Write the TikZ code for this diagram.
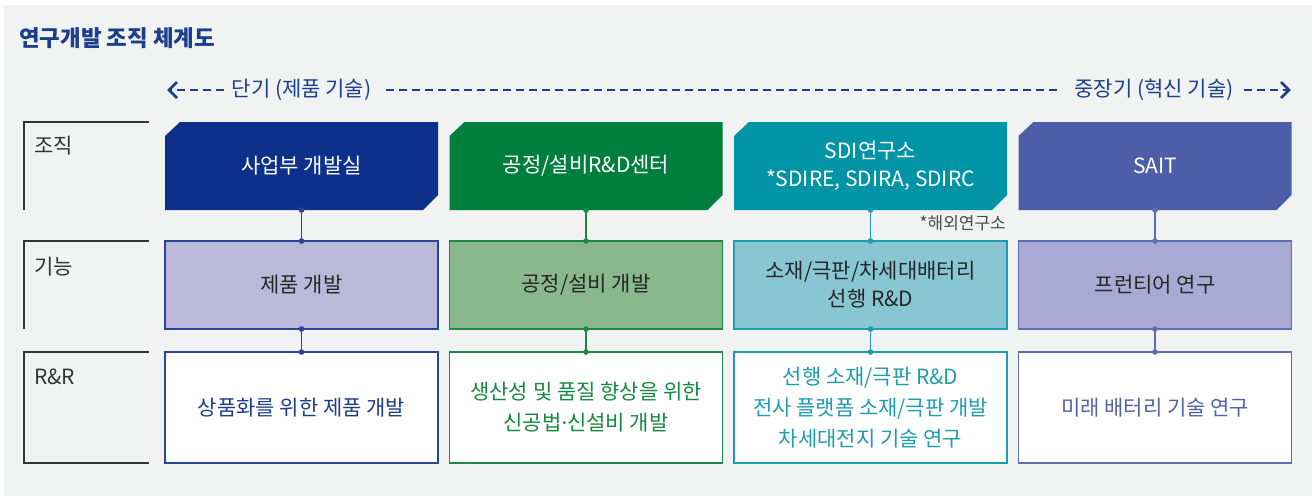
\documentclass[tikz,border=0pt]{standalone}
\usepackage{fontspec}
\setmainfont{Noto Sans CJK KR}
\newfontfamily\latinf{Noto Sans}
\usetikzlibrary{arrows.meta,backgrounds}
\definecolor{bg}{HTML}{F1F2F2}
\definecolor{titleblue}{HTML}{1B3E8E}
\definecolor{labgray}{HTML}{333333}
\definecolor{notegray}{HTML}{4A4A4A}
\definecolor{cAdark}{HTML}{0D318A}
\definecolor{cAlight}{HTML}{BBB8DA}
\definecolor{cAline}{HTML}{2A4597}
\definecolor{cAtext}{HTML}{1E3C8C}
\definecolor{cBdark}{HTML}{007E3E}
\definecolor{cBlight}{HTML}{89B88C}
\definecolor{cBline}{HTML}{1C8A46}
\definecolor{cBtext}{HTML}{148A3E}
\definecolor{cCdark}{HTML}{0094A6}
\definecolor{cClight}{HTML}{88C6D3}
\definecolor{cCline}{HTML}{1E9DAF}
\definecolor{cCtext}{HTML}{1E9DAE}
\definecolor{cDdark}{HTML}{4C5EA9}
\definecolor{cDlight}{HTML}{A9AAD4}
\definecolor{cDline}{HTML}{5E6BB5}
\definecolor{cDtext}{HTML}{5461AC}
\newcommand{\fsz}[2]{\fontsize{#1}{#2}\selectfont}
\begin{document}
\begin{tikzpicture}[x=1pt,y=-1pt,
  orgbox/.style={rectangle, inner sep=0pt, outer sep=0pt, minimum width=273pt, minimum height=88pt, text=white, align=center, font=\fsz{21}{28}},
  funcbox/.style={rectangle, inner sep=0pt, outer sep=0pt, minimum width=273pt, minimum height=88pt, line width=1.5pt, text=black!85, align=center, font=\fsz{21}{28}},
  rrbox/.style={rectangle, inner sep=0pt, outer sep=0pt, minimum width=273pt, minimum height=111pt, line width=1.5pt, fill=white, align=center, font=\fsz{21}{31}},
  conn/.style={draw=#1, line width=1.5pt, {Circle[length=5.5pt]}-{Circle[length=5.5pt]}, shorten <=-2.75pt, shorten >=-2.75pt},
  labline/.style={draw=labgray, line width=1.2pt},
  labtext/.style={anchor=west, inner sep=0pt, text=labgray, font=\fsz{21}{24}},
  dashline/.style={draw=titleblue, line width=2.4pt, dash pattern=on 8pt off 5pt},
  timelabel/.style={inner xsep=0pt, inner ysep=2pt, text=titleblue, font=\fsz{21}{24}},
  chevron/.style={draw=titleblue, line width=2.6pt, line cap=butt, line join=miter}
]
\useasboundingbox (0,0) rectangle (1312,496);

% title
\node[anchor=west, inner sep=0pt, text=titleblue, font=\fsz{22.4}{26}\bfseries] (title) at (19,38) {연구개발 조직 체계도};

% time axis
\node[timelabel] (short) at (301.5,90) {단기 (제품 기술)};
\node[timelabel] (long) at (1154,90) {중장기 (혁신 기술)};
\coordinate (la) at (169,90);
\coordinate (ra) at (1289,90);
\draw[dashline, shorten <=8pt, shorten >=2pt] (short.west) -- (la);
\draw[dashline, shorten <=15pt, shorten >=13pt] (short.east) -- (long.west);
\draw[dashline, shorten <=10pt, shorten >=2pt] (long.east) -- (ra);
\draw[chevron] ([shift={(8,-8)}]la) -- (la) -- ([shift={(8,8)}]la);
\draw[chevron] ([shift={(-8,-8)}]ra) -- (ra) -- ([shift={(-8,8)}]ra);

% row labels
\draw[labline] (149,122) -- (24,122) -- (24,210);
\draw[labline] (149,241) -- (24,241) -- (24,329);
\draw[labline] (149,352) -- (24,352) -- (24,463) -- (149,463);
\node[labtext] (lab1) at (34,146) {조직};
\node[labtext] (lab2) at (34,267) {기능};
\node[labtext] (lab3) at (34,377) {R\&R};

% organisation row
\node[orgbox] (o1) at (301.5,166) {사업부 개발실};
\node[orgbox] (o2) at (586,166) {공정/설비R\&D센터};
\node[orgbox] (o3) at (870.5,166) {SDI연구소\\*SDIRE, SDIRA, SDIRC};
\node[orgbox] (o4) at (1155,166) {SAIT};
\node[anchor=east, inner sep=0pt, text=notegray, font=\fsz{17}{19}] (note) at (1006,223) {*해외연구소};

% function row
\node[funcbox, fill=cAlight, draw=cAline] (f1) at (301.5,285) {제품 개발};
\node[funcbox, fill=cBlight, draw=cBline] (f2) at (586,285) {공정/설비 개발};
\node[funcbox, fill=cClight, draw=cCline] (f3) at (870.5,285) {소재/극판/차세대배터리\\선행 R\&D};
\node[funcbox, fill=cDlight, draw=cDline] (f4) at (1155,285) {프런티어 연구};

% R&R row
\node[rrbox, draw=cAline, text=cAtext] (r1) at (301.5,407.5) {상품화를 위한 제품 개발};
\node[rrbox, draw=cBline, text=cBtext] (r2) at (586,407.5) {생산성 및 품질 향상을 위한\\신공법{\latinf ·}신설비 개발};
\node[rrbox, draw=cCline, text=cCtext] (r3) at (870.5,407.5) {선행 소재/극판 R\&D\\전사 플랫폼 소재/극판 개발\\차세대전지 기술 연구};
\node[rrbox, draw=cDline, text=cDtext] (r4) at (1155,407.5) {미래 배터리 기술 연구};

% connectors
\draw[conn=cAline] (o1.south) -- (f1.north);
\draw[conn=cAline] (f1.south) -- (r1.north);
\draw[conn=cBline] (o2.south) -- (f2.north);
\draw[conn=cBline] (f2.south) -- (r2.north);
\draw[conn=cCline] (o3.south) -- (f3.north);
\draw[conn=cCline] (f3.south) -- (r3.north);
\draw[conn=cDline] (o4.south) -- (f4.north);
\draw[conn=cDline] (f4.south) -- (r4.north);

% backgrounds and chamfered organisation boxes
\begin{scope}[on background layer]
  \fill[white] (0,0) rectangle (1312,496);
  \fill[bg] (4,5) rectangle (1312,496);
  \foreach \n/\c in {o1/cAdark, o2/cBdark, o3/cCdark, o4/cDdark}{
    \fill[\c] ([yshift=-14pt]\n.north west) -- ([xshift=15pt]\n.north west) -- (\n.north east)
      -- ([yshift=15pt]\n.south east) -- ([xshift=-15pt]\n.south east) -- (\n.south west) -- cycle;
  }
\end{scope}
\end{tikzpicture}
\end{document}
